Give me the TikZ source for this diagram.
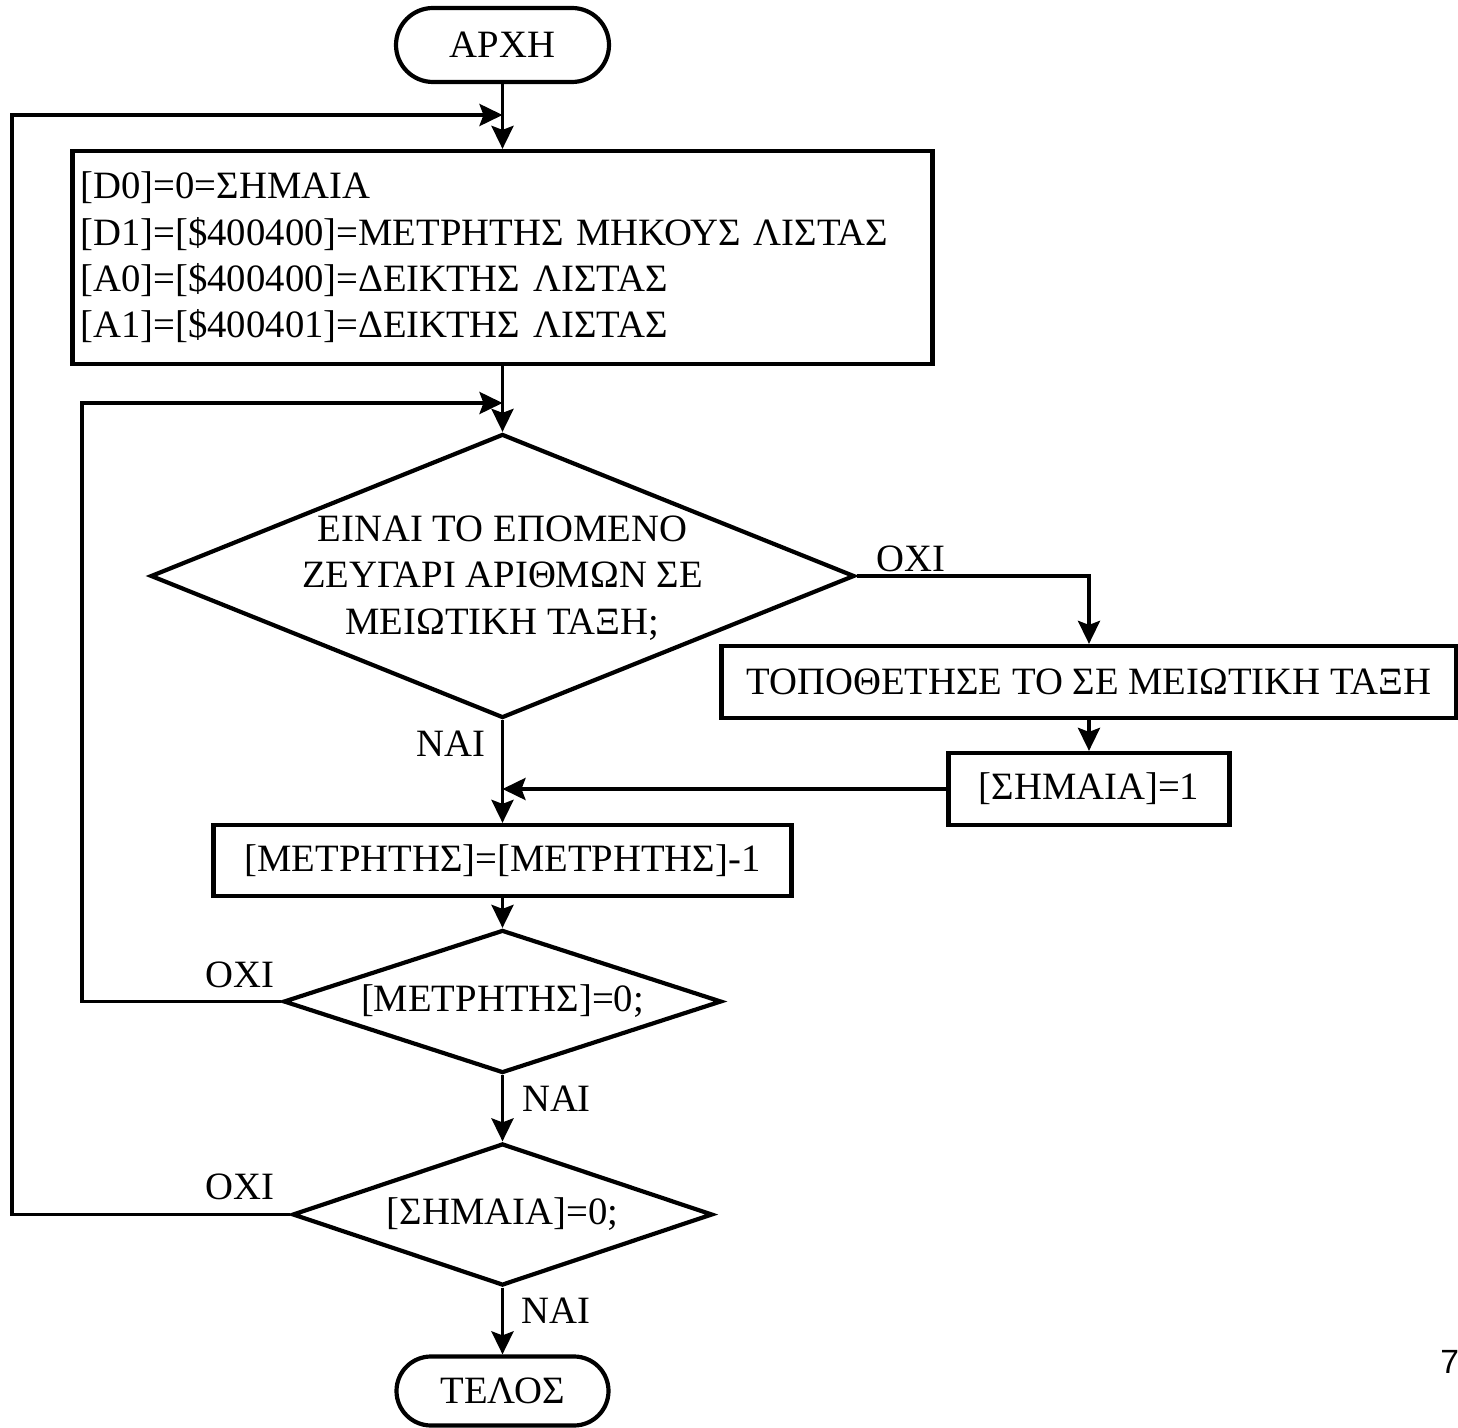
\documentclass[tikz,border=0pt]{standalone}
\usepackage{fontspec}
\setmainfont{Liberation Serif}
\newfontfamily\pagenumfont{Liberation Sans}
\usetikzlibrary{shapes.geometric,arrows.meta}

\begin{document}
\begin{tikzpicture}[x=0.5pt,y=-0.5pt,
  txt/.style={font=\fontsize{19.35pt}{23.2pt}\selectfont},
  outline/.style={draw, line width=2.1pt, txt, inner sep=0pt},
  terminal/.style={outline, rectangle, minimum width=106pt, minimum height=36pt, rounded corners=18pt},
  procbox/.style={outline, rectangle},
  decision/.style={outline, diamond, aspect=3, align=center},
  flow/.style={line width=1.9pt, -{Stealth[length=11.5pt,width=11pt,inset=2pt]}},
  lbl/.style={txt, inner sep=0pt, anchor=base west},
]
\useasboundingbox (0,0) rectangle (1458,1428);

% start / end
\node[terminal, minimum width=106.5pt, minimum height=37pt, rounded corners=18.5pt] (start) at (502.5,45) {ΑΡΧΗ};
\node[terminal, minimum height=34.5pt, rounded corners=17.25pt] (stop) at (502.5,1391) {ΤΕΛΟΣ};

% initialisation block
\node[procbox, minimum width=430pt, minimum height=106.5pt, text width=422pt, align=left] (init) at (502.5,257.5)
  {{[}D0]=0=ΣΗΜΑΙΑ\\
   {[}D1]=[\$400400]=ΜΕΤΡΗΤΗΣ ΜΗΚΟΥΣ ΛΙΣΤΑΣ\\
   {[}A0]=[\$400400]=ΔΕΙΚΤΗΣ ΛΙΣΤΑΣ\\
   {[}A1]=[\$400401]=ΔΕΙΚΤΗΣ ΛΙΣΤΑΣ};

% comparison of the next pair: the outline is sized on its own, the question sits on it
\node[decision, minimum width=352pt, minimum height=142pt] (cmp) at (502.5,576) {};
\node[txt, align=center, inner sep=0pt] (cmptext) at (502.5,578)
  {ΕΙΝΑΙ ΤΟ ΕΠΟΜΕΝΟ\\ ΖΕΥΓΑΡΙ ΑΡΙΘΜΩΝ ΣΕ\\ ΜΕΙΩΤΙΚΗ ΤΑΞΗ;};

% swap branch
\node[procbox, minimum width=367.5pt, minimum height=36pt] (swap) at (1089,682) {ΤΟΠΟΘΕΤΗΣΕ ΤΟ ΣΕ ΜΕΙΩΤΙΚΗ ΤΑΞΗ};
\node[procbox, minimum width=140.5pt, minimum height=36pt] (flag) at (1089,789) {[ΣΗΜΑΙΑ]=1};

% counter update and tests
\node[procbox, minimum width=289pt, minimum height=35.5pt] (dec) at (502.5,860.5) {[ΜΕΤΡΗΤΗΣ]=[ΜΕΤΡΗΤΗΣ]-1};
\node[decision, minimum width=219pt, minimum height=71.5pt] (cnt) at (502.5,1001.5) {[ΜΕΤΡΗΤΗΣ]=0;};
\node[decision, minimum width=210pt, minimum height=71pt] (fl) at (502.5,1214.5) {[ΣΗΜΑΙΑ]=0;};

% junctions and loop corners
\coordinate (j1) at (502.5,115);
\coordinate (j2) at (502.5,403);
\coordinate (j3) at (502.5,789);
\coordinate (outerloop) at (12,115);
\coordinate (innerloop) at (82,403);

% connectors
\draw[flow] (start) -- (init);
\draw[flow] (init) -- (cmp);
\draw[flow] (cmp.east) -| (swap.north);
\draw[flow] (swap) -- (flag);
\draw[flow] (flag.west) -- (j3);
\draw[flow] (cmp.south) -- (dec.north);
\draw[flow] (dec) -- (cnt);
\draw[flow] (cnt) -- (fl);
\draw[flow] (fl) -- (stop);
\draw[flow] (cnt.west) -| (innerloop) -- (j2);
\draw[flow] (fl.west) -| (outerloop) -- (j1);

% branch labels
\node[lbl] (no1) at (876,571.7) {ΟΧΙ};
\node[lbl] (yes1) at (416,756.7) {ΝΑΙ};
\node[lbl] (no2) at (205,987) {ΟΧΙ};
\node[lbl] (yes2) at (521.7,1111.7) {ΝΑΙ};
\node[lbl] (no3) at (205,1199) {ΟΧΙ};
\node[lbl] (yes3) at (521,1323) {ΝΑΙ};

% page number
\node[font=\pagenumfont\fontsize{16.8pt}{20pt}\selectfont, inner sep=0pt, anchor=base west] (pg) at (1440,1373) {7};
\end{tikzpicture}
\end{document}
